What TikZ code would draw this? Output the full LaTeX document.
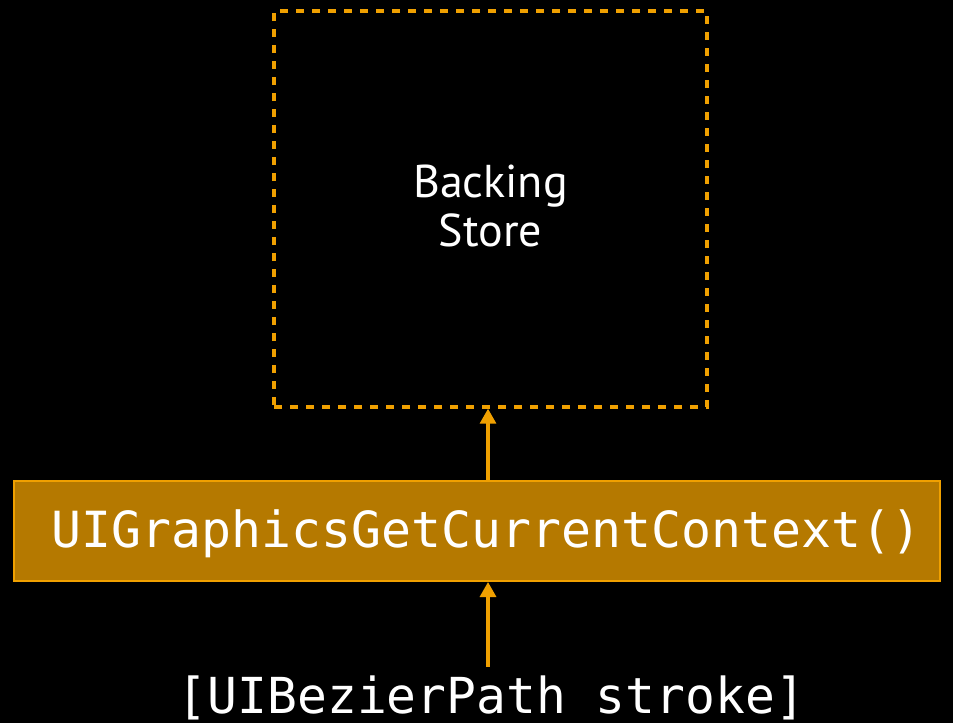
\documentclass[tikz,border=0pt]{standalone}
\usepackage{fontspec}
\setmainfont{PT Sans}
\newfontfamily\codefont{DejaVu Sans Mono}
\usetikzlibrary{arrows.meta}
\definecolor{amber}{HTML}{F0A000}
\definecolor{ochre}{HTML}{B57900}
\tikzset{
  storebox/.style={draw=amber, line width=3.4pt, dash pattern=on 8pt off 8pt,
    minimum width=433pt, minimum height=396pt, inner sep=0pt},
  ctxbox/.style={draw=amber, fill=ochre, line width=2pt,
    minimum width=926pt, minimum height=100pt, inner sep=0pt},
  flow/.style={draw=amber, line width=3.2pt,
    -{Triangle[width=16pt,length=15pt]}},
  codetext/.style={text=white, inner sep=0pt, anchor=base,
    font=\codefont\fontsize{49.8}{49.8}\selectfont},
}
\begin{document}
\begin{tikzpicture}[x=1pt,y=-1pt]
  \fill[black] (0,0) rectangle (953,723);
  \useasboundingbox (0,0) rectangle (953,723);

  % backing store
  \node[storebox] (store) at (490.5,209) {};
  \node[text=white, align=center, inner sep=0pt,
        font=\fontsize{46}{49}\selectfont] (storelabel) at (490.5,206) {Backing\\Store};

  % current context bar
  \node[ctxbox] (ctx) at (477,531) {};
  \node[codetext] (ctxlabel) at (486.5,547) {UIGraphicsGetCurrentContext()};

  % stroke call
  \node[codetext, font=\codefont\fontsize{49.6}{49.6}\selectfont] (call) at (491.5,713) {[UIBezierPath stroke]};

  \coordinate (up1) at (488,480);
  \coordinate (up2) at (488,667);
  \draw[flow] (up1) -- (up1 |- store.south);
  \draw[flow] (up2) -- (up2 |- ctx.south);
\end{tikzpicture}
\end{document}
